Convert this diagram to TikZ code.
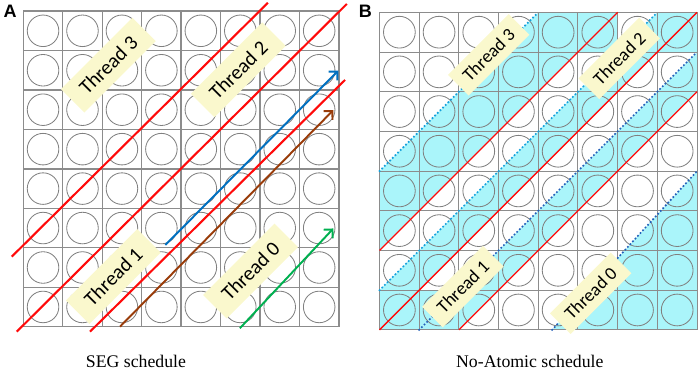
\documentclass[tikz,border=0pt]{standalone}
\usepackage{fontspec}
\setmainfont{Liberation Serif}
\newfontfamily\carlito{Carlito}
\newfontfamily\headfont{Liberation Sans}
\usepackage{tikz}
\usepackage{xcolor}
\usetikzlibrary{arrows.meta}
\definecolor{gridgray}{RGB}{140,140,140}
\definecolor{circgray}{RGB}{128,128,128}
\definecolor{threadred}{RGB}{255,10,10}
\definecolor{arrowblue}{RGB}{0,112,192}
\definecolor{arrowbrown}{RGB}{153,60,10}
\definecolor{arrowgreen}{RGB}{0,176,80}
\definecolor{cellcyan}{RGB}{170,245,250}
\definecolor{dotblue}{RGB}{20,160,220}
\definecolor{dotnavy}{RGB}{35,95,185}
\definecolor{labelyellow}{RGB}{250,248,205}

\begin{document}
\begin{tikzpicture}[
gridline/.style={draw=gridgray,line width=0.9pt},
cellcircle/.style={draw=circgray,line width=0.6pt},
redline/.style={draw=threadred,line width=1.5pt},
thinred/.style={draw=threadred,line width=0.9pt},
dotline/.style={line width=1.7pt,line cap=round,dash pattern=on 0pt off 2.7pt},
arrowline/.style={line width=1.4pt,-{Straight Barb[length=4.5pt,width=9pt]}},
threadA/.style={fill=labelyellow,rotate=45,inner sep=0pt,minimum width=2.56cm,minimum height=0.84cm,font=\carlito\fontsize{14.7}{17}\selectfont},
threadB/.style={threadA,minimum width=2.18cm,minimum height=0.74cm,font=\carlito\fontsize{13.2}{15}\selectfont},
caption/.style={anchor=base,font=\fontsize{12.8}{15}\selectfont},
letter/.style={anchor=base,font=\headfont\bfseries\fontsize{13}{15}\selectfont}]
\useasboundingbox(-0.591,-1.099)rectangle(17.128,8.281);

% SEG schedule
\draw[gridline](0,0)grid(8,8);
\foreach \i in {0,...,7}\foreach \j in {0,...,7}\draw[cellcircle](\i+0.5,\j+0.5)circle(0.4);
\draw[redline](-0.294,1.774)--(6.2,8.21);
\draw[redline](-0.167,-0.127)--(8.2,8.18);
\draw[redline](1.69,-0.127)--(8.155,6.254);
\coordinate (b0) at (3.6,2.07);
\coordinate (b1) at (7.985,6.49);
\coordinate (r0) at (2.45,0);
\coordinate (r1) at (7.86,5.49);
\coordinate (g0) at (5.49,-0.04);
\coordinate (g1) at (7.86,2.49);
\draw[arrowline,arrowblue](b0)--(b1);
\draw[arrowline,arrowbrown](r0)--(r1);
\draw[arrowline,arrowgreen](g0)--(g1);
\node[threadA](t3a)at(2.155,6.63){Thread 3};
\node[threadA](t2a)at(5.45,6.51){Thread 2};
\node[threadA](t1a)at(2.28,1.27){Thread 1};
\node[threadA](t0a)at(5.76,1.41){Thread 0};
\node[letter](la)at(-0.337,7.825){A};
\node[caption](capa)at(2.857,-1.045){SEG schedule};

% No-Atomic schedule
\begin{scope}[shift={(9.03,-0.08)},scale=1.006]
\fill[cellcyan](0,2)--(0,4)--(4,8)--(6,8)--cycle;
\fill[cellcyan](0,0)--(0,1)--(7,8)--(8,8)--cycle;
\fill[cellcyan](1,0)--(2,0)--(8,6)--(8,7)--cycle;
\fill[cellcyan](4.35,0)--(8,0)--(8,4)--cycle;
\fill[cellcyan](5,7)--(6,7)--(6,8)--cycle;
\fill[cellcyan](7,7)--(8,7)--(8,8)--cycle;
\fill[cellcyan](0,0)--(1,0)--(2,1)--(1,1)--cycle;
\draw[gridline,line width=0.7pt](0,0)grid(8,8);
\foreach \i in {0,...,7}\foreach \j in {0,...,7}\draw[cellcircle](\i+0.5,\j+0.5)circle(0.4);
\draw[thinred](0,2)--(6,8);
\draw[thinred](0,0)--(8,8);
\draw[thinred](2,0)--(8,6);
\draw[dotline,dotblue](0,4)--(4,8);
\draw[dotline,dotblue](0,1)--(7,8);
\draw[dotline,dotnavy](1,0)--(8,7);
\draw[dotline,dotnavy](4.35,0)--(8,4);
\node[threadB](t3b)at(2.75,6.93){Thread 3};
\node[threadB](t2b)at(6.04,6.84){Thread 2};
\node[threadB](t1b)at(2.10,1.09){Thread 1};
\node[threadB](t0b)at(5.32,0.92){Thread 0};
\end{scope}
\node[letter](lb)at(8.674,7.825){B};
\node[caption](capb)at(12.84,-1.045){No-Atomic schedule};
\end{tikzpicture}
\end{document}
